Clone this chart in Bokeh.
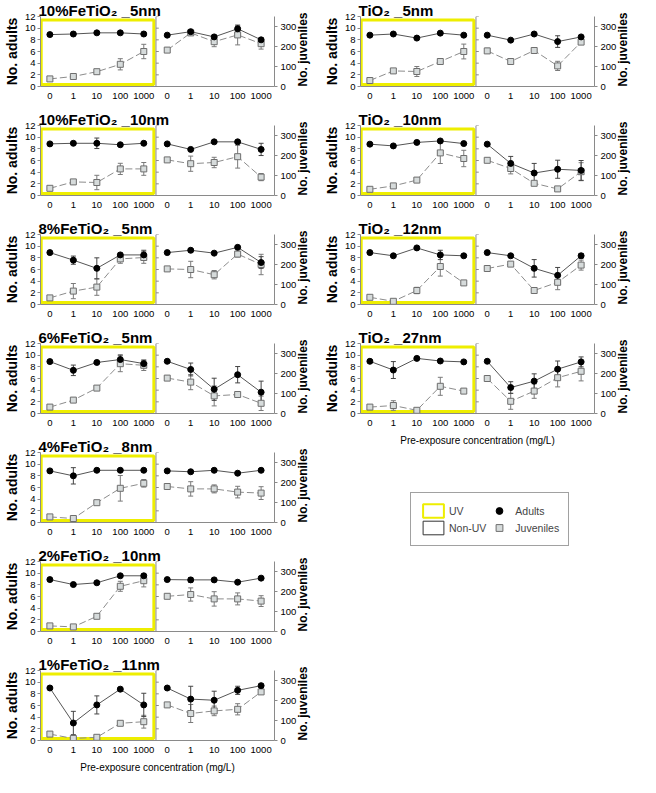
import math
from bokeh.plotting import figure
from bokeh.models import (Range1d, LinearAxis, FixedTicker, Span, BoxAnnotation, Whisker,
                          ColumnDataSource, Legend, LegendItem, TeeHead)
from bokeh.layouts import row, column
from bokeh.embed import file_html
from bokeh.resources import INLINE

# ---------------- data ----------------
conc_labels = ["0", "1", "10", "100", "1000"]
adult_ticks = [0, 2, 4, 6, 8, 10, 12]
juv_ticks = [0, 100, 200, 300]

panel_titles = [
    "10%FeTiO\u2082 _5nm", "10%FeTiO\u2082 _10nm", "8%FeTiO\u2082 _5nm", "6%FeTiO\u2082 _5nm",
    "4%FeTiO\u2082 _8nm", "2%FeTiO\u2082 _10nm", "1%FeTiO\u2082 _11nm",
    "TiO\u2082 _5nm", "TiO\u2082 _10nm", "TiO\u2082 _12nm", "TiO\u2082 _27nm",
]

adults_uv = [
    [8.9, 9.0, 9.2, 9.2, 9.0],
    [8.85, 8.95, 8.95, 8.7, 8.95],
    [8.9, 7.6, 6.2, 8.5, 8.5],
    [8.9, 7.4, 8.75, 9.25, 8.55],
    [8.85, 8.0, 8.95, 8.95, 8.95],
    [8.9, 8.05, 8.35, 9.55, 9.55],
    [9.0, 3.0, 6.1, 8.8, 6.1],
    [8.8, 9.0, 8.3, 9.15, 8.8],
    [8.8, 8.5, 9.1, 9.35, 8.9],
    [8.9, 8.35, 9.7, 8.5, 8.35],
    [8.95, 7.45, 9.45, 9.0, 8.85],
]
adults_uv_err = [
    [0.2, 0.3, 0.2, 0.3, 0.3],
    [0.2, 0.2, 0.9, 0.2, 0.2],
    [0.2, 0.7, 1.8, 0.3, 0.8],
    [0.2, 0.9, 0.2, 0.8, 0.6],
    [0.2, 1.4, 0.2, 0.2, 0.2],
    [0.2, 0.2, 0.2, 0.2, 0.3],
    [0.2, 2.0, 1.55, 0.3, 2.0],
    [0.2, 0.2, 0.2, 0.2, 0.2],
    [0.2, 0.2, 0.2, 0.2, 0.2],
    [0.2, 0.2, 0.2, 0.8, 0.2],
    [0.2, 1.45, 0.2, 0.2, 0.2],
]
adults_non = [
    [8.8, 9.4, 8.5, 9.9, 8.0],
    [8.85, 7.9, 9.2, 9.2, 7.9],
    [8.9, 9.3, 8.8, 9.8, 7.2],
    [8.95, 7.55, 4.15, 6.65, 3.65],
    [8.85, 8.7, 8.95, 8.45, 8.95],
    [8.9, 8.85, 8.85, 8.45, 9.15],
    [9.0, 7.1, 6.9, 8.6, 9.4],
    [8.8, 7.95, 9.0, 7.7, 8.5],
    [8.8, 5.5, 3.85, 4.5, 4.3],
    [8.9, 8.35, 6.2, 5.0, 8.35],
    [8.95, 4.45, 5.55, 7.6, 8.85],
]
adults_non_err = [
    [0.2, 0.2, 0.3, 0.5, 0.3],
    [0.2, 0.2, 0.2, 0.2, 1.05],
    [0.2, 0.3, 0.2, 0.2, 1.0],
    [0.2, 1.1, 1.9, 1.4, 1.9],
    [0.2, 0.2, 0.2, 0.2, 0.2],
    [0.2, 0.4, 0.3, 0.2, 0.2],
    [0.2, 2.2, 1.55, 0.7, 0.3],
    [0.2, 0.2, 0.2, 1.0, 0.2],
    [0.2, 1.2, 1.65, 1.55, 1.7],
    [0.2, 0.2, 1.5, 1.35, 0.4],
    [0.2, 1.0, 1.25, 1.4, 0.85],
]
juv_uv = [
    [38, 50, 74, 111, 175],
    [36, 68, 65, 133, 133],
    [33, 67, 87, 228, 235],
    [32, 67, 127, 249, 241],
    [28, 20, 99, 171, 196],
    [28, 23, 76, 226, 254],
    [32, 10, 16, 86, 94],
    [30, 78, 75, 125, 175],
    [31, 48, 77, 213, 185],
    [36, 16, 70, 190, 108],
    [32, 40, 16, 136, 112],
]
juv_uv_err = [
    [3, 5, 8, 28, 36],
    [3, 5, 36, 28, 32],
    [4, 38, 41, 22, 29],
    [4, 10, 10, 40, 26],
    [3, 3, 5, 64, 19],
    [3, 3, 4, 25, 31],
    [3, 3, 3, 10, 32],
    [3, 10, 25, 13, 37],
    [3, 5, 10, 53, 41],
    [3, 3, 16, 48, 10],
    [3, 24, 5, 45, 11],
]
juv_non = [
    [182, 268, 224, 258, 214],
    [178, 159, 165, 194, 92],
    [178, 175, 149, 252, 200],
    [177, 157, 88, 95, 51],
    [180, 168, 168, 152, 147],
    [176, 185, 163, 163, 152],
    [178, 135, 148, 156, 243],
    [178, 125, 180, 103, 222],
    [176, 135, 61, 33, 119],
    [180, 202, 70, 111, 197],
    [175, 61, 112, 179, 211],
]
juv_non_err = [
    [11, 8, 25, 50, 27],
    [10, 38, 26, 57, 18],
    [10, 41, 21, 14, 51],
    [11, 38, 50, 8, 36],
    [10, 36, 20, 29, 32],
    [10, 33, 36, 30, 27],
    [10, 45, 24, 28, 6],
    [13, 6, 12, 23, 10],
    [10, 27, 8, 5, 45],
    [8, 6, 8, 37, 25],
    [10, 40, 36, 46, 48],
]

# ---------------- style ----------------
FONT = "Liberation Sans"
YELLOW = "#eeee00"
AXIS_GRAY = "#8a8a8a"
X_START, X_END = -0.4, 9.57
DIVIDER = 4.52
JUV_MAX = 350
NAN = float("nan")

uv_x = list(range(len(conc_labels)))
non_x = [i + len(conc_labels) for i in uv_x]
label_map = {}
for i, lab in enumerate(conc_labels):
    label_map[uv_x[i]] = lab
    label_map[non_x[i]] = lab


def style_axis(ax):
    ax.axis_line_color = AXIS_GRAY
    ax.major_tick_line_color = AXIS_GRAY
    ax.minor_tick_line_color = None
    ax.major_label_text_font = FONT
    ax.major_label_text_font_size = "9.5px"
    ax.major_label_text_color = "black"
    ax.axis_label_text_font = FONT
    ax.axis_label_text_color = "black"


def add_series(p, xs, ad, ad_e, jv, jv_e):
    jsrc = ColumnDataSource(dict(x=xs, y=jv, lo=[a - b for a, b in zip(jv, jv_e)],
                                 hi=[a + b for a, b in zip(jv, jv_e)]))
    asrc = ColumnDataSource(dict(x=xs, y=ad, lo=[a - b for a, b in zip(ad, ad_e)],
                                 hi=[a + b for a, b in zip(ad, ad_e)]))
    p.add_layout(Whisker(source=jsrc, base="x", upper="hi", lower="lo", y_range_name="juv",
                         line_color="#7a7a7a", line_width=1,
                         upper_head=TeeHead(size=5, line_color="#7a7a7a", line_width=1),
                         lower_head=TeeHead(size=5, line_color="#7a7a7a", line_width=1)))
    p.add_layout(Whisker(source=asrc, base="x", upper="hi", lower="lo",
                         line_color="#444444", line_width=1,
                         upper_head=TeeHead(size=5, line_color="#444444", line_width=1),
                         lower_head=TeeHead(size=5, line_color="#444444", line_width=1)))
    p.line("x", "y", source=jsrc, y_range_name="juv", line_color="#8c8c8c",
           line_width=1, line_dash="7 3")
    p.scatter("x", "y", source=jsrc, y_range_name="juv", marker="square", size=6,
              fill_color="#d6dbdb", line_color="#6e6e6e", line_width=1)
    p.line("x", "y", source=asrc, line_color="#555555", line_width=1)
    p.scatter("x", "y", source=asrc, marker="circle", size=6,
              fill_color="black", line_color="black")


def make_panel(i, xlabel=False):
    h = 122 if xlabel else 109
    p = figure(width=320, height=h, x_range=Range1d(X_START, X_END), y_range=Range1d(0, 12),
               output_backend="svg", toolbar_location=None,
               min_border_left=34, min_border_right=43, min_border_top=16,
               min_border_bottom=36 if xlabel else 23, title=panel_titles[i])
    p.title.text_font = FONT
    p.title.text_font_size = "15px"
    p.title.text_font_style = "bold"
    p.title.text_color = "black"
    p.title.standoff = -4
    p.title.offset = -2
    p.outline_line_color = None
    p.grid.visible = False
    p.background_fill_color = "white"

    # left axis (adults)
    yax = p.yaxis[0]
    style_axis(yax)
    yax.ticker = FixedTicker(ticks=adult_ticks)
    yax.axis_label = "No. adults"
    yax.axis_label_text_font_size = "14px"
    yax.axis_label_text_font_style = "bold"
    yax.axis_label_standoff = 2
    yax.major_label_standoff = 2
    yax.major_tick_out = 3
    yax.major_tick_in = 0

    # bottom axis
    xax = p.xaxis[0]
    style_axis(xax)
    xax.ticker = FixedTicker(ticks=uv_x + non_x)
    xax.major_label_overrides = label_map
    xax.major_tick_out = 0
    xax.major_tick_in = 0
    xax.major_label_standoff = 6
    if xlabel:
        xax.axis_label = "Pre-exposure concentration (mg/L)"
        xax.axis_label_text_font_size = "10px"
        xax.axis_label_text_font_style = "normal"
        xax.axis_label_standoff = 6
    else:
        xax.axis_label = None
        xax.axis_label_standoff = 0

    # right axis (juveniles)
    p.extra_y_ranges = {"juv": Range1d(0, JUV_MAX)}
    rax = LinearAxis(y_range_name="juv", ticker=FixedTicker(ticks=juv_ticks))
    style_axis(rax)
    rax.axis_label = "No. juveniles"
    rax.axis_label_text_font_size = "12px"
    rax.axis_label_text_font_style = "bold"
    rax.axis_label_standoff = 4
    rax.major_label_standoff = 3
    rax.major_tick_out = 3
    rax.major_tick_in = 0
    try:
        rax.axis_label_align = "start"
        rax.axis_label_orientation = math.pi / 2
    except AttributeError:
        pass
    p.add_layout(rax, "right")

    # UV frame and divider between UV / Non-UV
    p.add_layout(BoxAnnotation(left=X_START + 0.03, right=DIVIDER - 0.09, bottom=0.35, top=11.4,
                               fill_alpha=0, line_color=YELLOW, line_alpha=1.0, line_width=3,
                               level="underlay"))
    p.add_layout(Span(location=DIVIDER, dimension="height", line_color=AXIS_GRAY, line_width=1))
    n = len(adult_ticks)
    p.segment(x0=[DIVIDER] * n, y0=adult_ticks, x1=[DIVIDER + 0.12] * n, y1=adult_ticks,
              line_color=AXIS_GRAY, line_width=1)

    add_series(p, uv_x, adults_uv[i], adults_uv_err[i], juv_uv[i], juv_uv_err[i])
    add_series(p, non_x, adults_non[i], adults_non_err[i], juv_non[i], juv_non_err[i])
    return p


left_col = [make_panel(i, xlabel=(i == 6)) for i in range(7)]
right_col = [make_panel(i, xlabel=(i == 10)) for i in range(7, 11)]

# legend panel (legend proxies carry NaN so only the legend keys are drawn)
lg = figure(width=320, height=110, x_range=Range1d(0, 1), y_range=Range1d(0, 1),
            output_backend="svg", toolbar_location=None, min_border=0,
            x_axis_type=None, y_axis_type=None)
lg.grid.visible = False
lg.outline_line_color = None
r_uv = lg.quad(left=[NAN], right=[NAN], top=[NAN], bottom=[NAN], fill_color="white",
               line_color=YELLOW, line_width=2)
r_non = lg.quad(left=[NAN], right=[NAN], top=[NAN], bottom=[NAN], fill_color="white",
                line_color="#333333", line_width=1)
r_ad = lg.scatter(x=[NAN], y=[NAN], marker="circle", fill_color="black", line_color="black")
r_ju = lg.scatter(x=[NAN], y=[NAN], marker="square", fill_color="#d6dbdb", line_color="#6e6e6e")
legend = Legend(items=[LegendItem(label="UV", renderers=[r_uv]),
                       LegendItem(label="Non-UV", renderers=[r_non]),
                       LegendItem(label="Adults", renderers=[r_ad]),
                       LegendItem(label="Juveniles", renderers=[r_ju])],
                ncols=2, location=(50, 13), glyph_width=26, glyph_height=17,
                label_height=17, label_standoff=3, spacing=0, padding=9, margin=0,
                label_text_font=FONT, label_text_font_size="10.5px",
                border_line_color="#444444", border_line_width=1,
                background_fill_color="white")
lg.add_layout(legend, "center")

layout = row(column(*left_col), column(*right_col, lg))

html = file_html(layout, INLINE)
open("out.html", "w").write(html)
